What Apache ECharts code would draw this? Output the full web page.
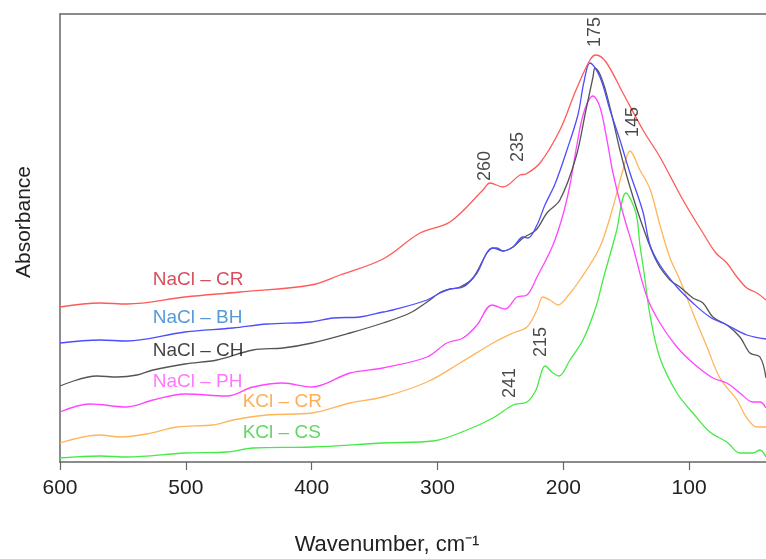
<!DOCTYPE html>
<html>
<head>
<meta charset="utf-8">
<script src="https://cdn.jsdelivr.net/npm/echarts@6/dist/echarts.min.js"></script>
<style>
  html, body { margin: 0; padding: 0; background: #fff; }
  #chart { width: 766px; height: 559px; }
</style>
</head>
<body>
<div id="chart"></div>
<script>
// [wavenumber cm-1, absorbance a.u.]
const naclCR = [
  [600, 1.55], [568.2, 1.59], [546.8, 1.58], [500.7, 1.65], [457.0, 1.70], [400.5, 1.77],
  [377.5, 1.87], [343.3, 2.03], [313.9, 2.29], [290.1, 2.40], [263.8, 2.72], [258.3, 2.79],
  [247.9, 2.75], [234.4, 2.87], [229.7, 2.88], [218.5, 2.99], [202.7, 3.32], [189.9, 3.72],
  [178.8, 4.02], [174.1, 4.07], [166.1, 4.00], [152.6, 3.69], [136.7, 3.32], [123.2, 3.05],
  [104.9, 2.62], [89.0, 2.29], [78.7, 2.09], [70.0, 1.99], [62.0, 1.85], [54.1, 1.74],
  [46.1, 1.69], [38.9, 1.62]
];
const naclBH = [
  [600, 1.19], [568.2, 1.22], [546.8, 1.21], [500.7, 1.30], [462.5, 1.34], [435.5, 1.38],
  [400.5, 1.40], [383.0, 1.44], [361.6, 1.45], [343.3, 1.50], [335.4, 1.52], [308.3, 1.62],
  [298.0, 1.69], [290.1, 1.73], [279.7, 1.75], [268.6, 1.89], [258.3, 2.13], [252.7, 2.14],
  [247.9, 2.11], [240.0, 2.15], [232.0, 2.25], [228.1, 2.24], [220.9, 2.37], [214.6, 2.57],
  [206.6, 2.78], [197.1, 3.12], [188.4, 3.47], [183.6, 3.80], [178.8, 3.99], [170.9, 3.85],
  [162.9, 3.52], [155.0, 3.22], [147.0, 2.89], [136.7, 2.50], [131.1, 2.17], [123.2, 1.97],
  [109.7, 1.75], [97.0, 1.59], [83.5, 1.45], [70.0, 1.37], [54.1, 1.27], [38.9, 1.23]
];
const naclCH = [
  [600, 0.76], [570.6, 0.86], [554.7, 0.85], [538.8, 0.87], [526.1, 0.92], [500.7, 0.98],
  [475.2, 1.02], [446.6, 1.12], [422.8, 1.14], [399.7, 1.19], [369.5, 1.29], [343.3, 1.39],
  [321.9, 1.49], [308.3, 1.60], [295.6, 1.71], [282.1, 1.75], [271.8, 1.84], [260.7, 2.09],
  [255.9, 2.14], [247.9, 2.11], [240.0, 2.15], [232.0, 2.24], [221.7, 2.32], [213.0, 2.49],
  [202.7, 2.62], [189.9, 3.05], [182.0, 3.52], [176.4, 3.85], [174.8, 3.94], [168.5, 3.80],
  [160.5, 3.42], [155.0, 3.12], [147.0, 2.75], [136.7, 2.35], [125.6, 2.00], [115.2, 1.82],
  [107.3, 1.75], [97.0, 1.64], [89.0, 1.59], [81.1, 1.45], [70.0, 1.37], [59.6, 1.25],
  [51.7, 1.09], [43.7, 1.05], [38.9, 0.84]
];
const naclPH = [
  [600, 0.50], [576.2, 0.58], [546.8, 0.55], [526.1, 0.62], [500.7, 0.68], [467.3, 0.66],
  [446.6, 0.75], [422.8, 0.79], [399.7, 0.75], [369.5, 0.89], [343.3, 0.94], [308.3, 1.05],
  [292.5, 1.19], [279.7, 1.24], [268.6, 1.37], [256.7, 1.57], [246.4, 1.53], [236.8, 1.65],
  [228.9, 1.67], [220.9, 1.85], [208.2, 2.17], [200.3, 2.47], [194.7, 2.77], [189.2, 3.17],
  [183.6, 3.50], [176.4, 3.66], [170.9, 3.55], [165.3, 3.22], [160.5, 2.89], [152.6, 2.49],
  [144.6, 2.15], [133.5, 1.65], [123.2, 1.39], [109.7, 1.15], [97.0, 0.99], [81.1, 0.84],
  [70.0, 0.79], [59.6, 0.69], [49.3, 0.60], [43.7, 0.60], [38.9, 0.54]
];
const kclCR = [
  [600, 0.19], [568.2, 0.27], [552.3, 0.25], [530.9, 0.28], [507.0, 0.35], [478.4, 0.37],
  [462.5, 0.42], [435.5, 0.47], [399.7, 0.49], [369.5, 0.59], [343.3, 0.65], [308.3, 0.80],
  [282.1, 0.99], [255.9, 1.19], [240.0, 1.29], [228.9, 1.35], [220.9, 1.52], [216.2, 1.65],
  [210.6, 1.62], [204.2, 1.57], [197.1, 1.65], [186.8, 1.82], [170.9, 2.15], [160.5, 2.55],
  [152.6, 2.92], [147.0, 3.11], [139.1, 2.92], [131.1, 2.73], [123.2, 2.37], [115.2, 2.04],
  [107.3, 1.82], [97.0, 1.49], [85.8, 1.15], [75.5, 0.84], [62.0, 0.62], [54.1, 0.44],
  [46.1, 0.35], [38.9, 0.35]
];
const kclCS = [
  [600, 0.04], [568.2, 0.06], [546.8, 0.05], [500.7, 0.09], [467.3, 0.10], [446.6, 0.14],
  [399.7, 0.15], [343.3, 0.19], [303.6, 0.21], [276.6, 0.32], [255.9, 0.44], [240.0, 0.57],
  [228.9, 0.60], [221.7, 0.72], [218.5, 0.85], [214.6, 0.96], [208.2, 0.89], [203.4, 0.86],
  [194.7, 1.02], [184.4, 1.22], [174.1, 1.55], [168.5, 1.82], [158.1, 2.29], [150.2, 2.69],
  [142.3, 2.49], [139.1, 2.17], [135.9, 1.90], [131.1, 1.47], [123.2, 1.04], [109.7, 0.69],
  [97.0, 0.49], [83.5, 0.30], [70.0, 0.20], [59.6, 0.09], [49.3, 0.09], [43.7, 0.12],
  [38.9, 0.05]
];

const seriesNames = ['NaCl \u2013 CR', 'NaCl \u2013 BH', 'NaCl \u2013 CH', 'NaCl \u2013 PH', 'KCl \u2013 CR', 'KCl \u2013 CS'];
const lineColors = ['#ff5a5a', '#4d4dff', '#555555', '#ff45ff', '#ffb55a', '#45ea45'];
const nameColors = ['#cc2233', '#2a7fd0', '#111111', '#ff55ff', '#ff9a2a', '#3ccc3c'];
// where each curve's name is written: [wavenumber at left edge of text, absorbance]
const namePositions = [[526.3, 1.82], [526.3, 1.44], [526.3, 1.11], [526.3, 0.80], [454.8, 0.60], [454.8, 0.29]];

// band positions written over the peaks: [wavenumber, absorbance, text]
const peakLabels = [
  [262.2, 2.96, '260'], [236.0, 3.15, '235'], [174.8, 4.30, '175'],
  [144.6, 3.40, '145'], [217.8, 1.20, '215'], [242.4, 0.79, '241']
];
const tickValues = [600, 500, 400, 300, 200, 100];

const FONT = '"Liberation Sans", Arial, sans-serif';
const curves = [naclCR, naclBH, naclCH, naclPH, kclCR, kclCS];

const chart = echarts.init(document.getElementById('chart'), null, { renderer: 'canvas' });

const lineSeries = curves.map((data, i) => ({
  name: seriesNames[i],
  type: 'line',
  data,
  smooth: 0.35,
  symbol: 'none',
  silent: true,
  z: 10 - i,
  lineStyle: { color: lineColors[i], width: 1.3 },
}));

const option = {
  animation: false,
  backgroundColor: '#fff',
  textStyle: { fontFamily: FONT },
  grid: { left: 60, right: 0, top: 14, bottom: 97, containLabel: false },
  xAxis: [
    {
      type: 'value',
      inverse: true,
      min: 38.9,
      max: 600,
      splitLine: { show: false },
      axisLine: { lineStyle: { color: '#666', width: 1.5 } },
      axisTick: { show: true, length: 8, inside: false, customValues: tickValues, lineStyle: { color: '#666', width: 1.2 } },
      axisLabel: { customValues: tickValues, color: '#222', fontSize: 21, fontFamily: FONT, margin: 16 },
    },
    {
      type: 'value',
      position: 'top',
      inverse: true,
      min: 38.9,
      max: 600,
      splitLine: { show: false },
      axisLine: { show: true, lineStyle: { color: '#666', width: 1.5 } },
      axisTick: { show: false },
      axisLabel: { show: false },
    },
  ],
  yAxis: {
    type: 'value',
    min: 0,
    max: 4.48,
    splitLine: { show: false },
    axisLine: { show: true, lineStyle: { color: '#666', width: 1.5 } },
    axisTick: { show: false },
    axisLabel: { show: false },
  },
  graphic: [
    {
      type: 'text',
      x: 387,
      y: 545,
      style: { text: 'Wavenumber, cm\u207B\u00B9', font: '22px ' + FONT, fill: '#222', textAlign: 'center', textVerticalAlign: 'middle' },
    },
    {
      type: 'text',
      x: 24,
      y: 222,
      rotation: Math.PI / 2,
      style: { text: 'Absorbance', font: '21px ' + FONT, fill: '#222', textAlign: 'center', textVerticalAlign: 'middle' },
    },
  ],
  series: [
    ...lineSeries,
    {
      type: 'scatter',
      silent: true,
      symbolSize: 0,
      z: 20,
      data: namePositions.map((p, i) => ({
        value: p,
        label: { formatter: seriesNames[i], color: nameColors[i] },
      })),
      label: { show: true, position: 'right', distance: 0, fontSize: 19, fontFamily: FONT },
    },
    {
      type: 'scatter',
      silent: true,
      symbolSize: 0,
      z: 20,
      data: peakLabels.map((p) => ({ value: [p[0], p[1]], label: { formatter: p[2] } })),
      label: { show: true, position: 'inside', rotate: 90, color: '#1a1a1a', fontSize: 18, fontFamily: FONT },
    },
  ],
};

chart.setOption(option);
</script>
</body>
</html>
